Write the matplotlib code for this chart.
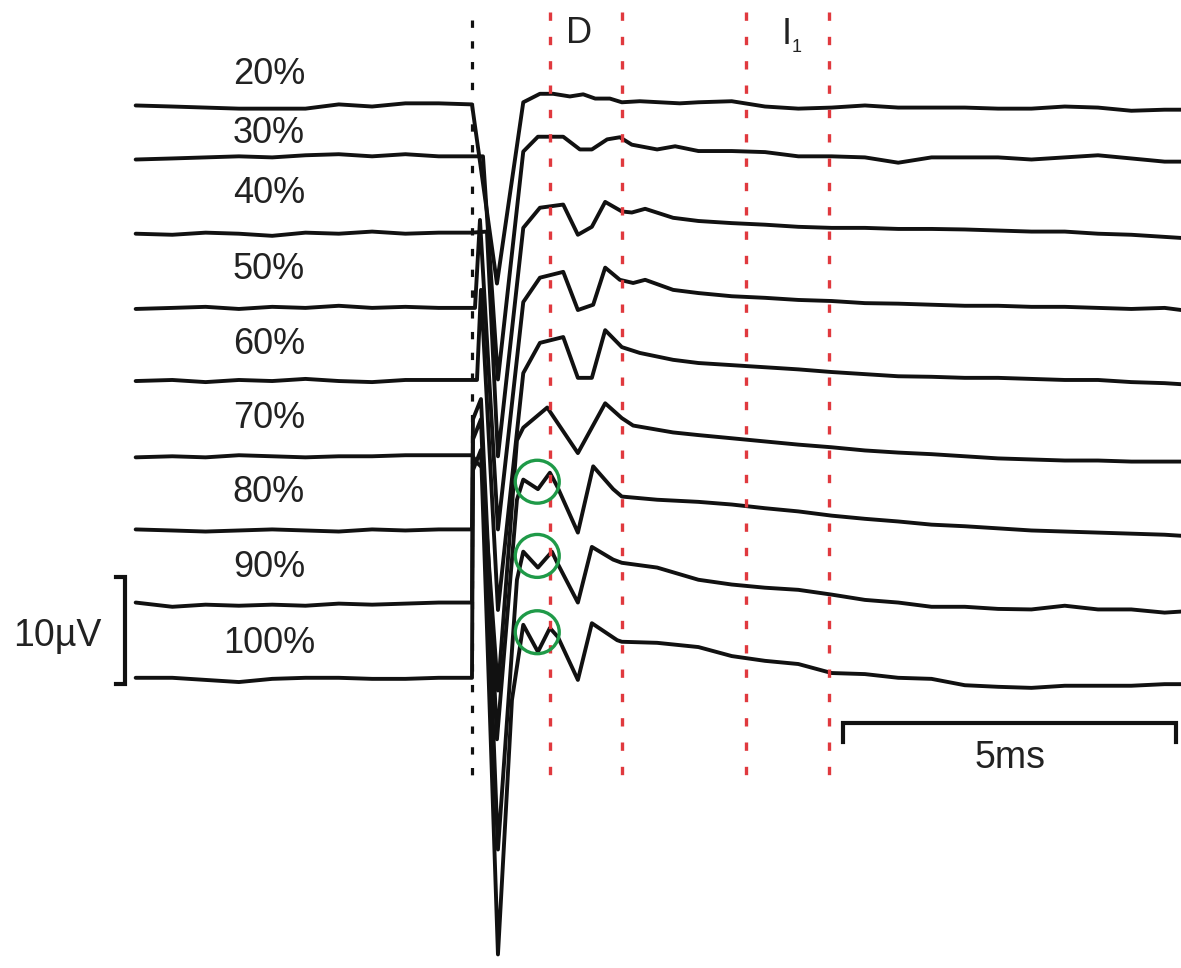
import matplotlib
matplotlib.use('Agg')
import matplotlib.pyplot as plt
from matplotlib.patches import Ellipse

# ======================
# DATA  (time in ms after stimulus, amplitude in uV)
# ======================

labels = ['20%', '30%', '40%', '50%', '60%', '70%', '80%', '90%', '100%']
# vertical offset of each trace baseline (uV above the 100% trace)
offsets = [54.3, 49.2, 42.2, 35.2, 28.3, 21.1, 14.2, 7.2, 0.0]

# pre-stimulus samples
pre_t = [-5.05, -4.5, -4.0, -3.5, -3.0, -2.5, -2.0, -1.5, -1.0, -0.5, 0.0]
pre_v = {
    '20%':  [0.0, -0.1, -0.2, -0.3, -0.3, -0.3, 0.1, -0.1, 0.2, 0.2, 0.1],
    '30%':  [0.0, 0.1, 0.2, 0.3, 0.2, 0.4, 0.5, 0.3, 0.5, 0.3, 0.3],
    '40%':  [0.0, -0.1, 0.1, 0.0, -0.2, 0.1, 0.0, 0.2, 0.0, 0.1, 0.1],
    '50%':  [-0.1, 0.0, 0.1, -0.1, 0.1, 0.0, 0.2, 0.0, 0.1, 0.0, 0.0],
    '60%':  [0.0, 0.1, -0.1, 0.1, 0.0, 0.2, 0.0, -0.1, 0.1, 0.1, 0.1],
    '70%':  [0.0, 0.1, 0.0, 0.2, 0.1, 0.0, 0.1, 0.1, 0.2, 0.2, 0.2],
    '80%':  [0.1, 0.0, -0.1, 0.0, 0.1, 0.0, -0.1, 0.1, 0.0, 0.1, 0.1],
    '90%':  [0.2, -0.2, 0.0, -0.1, 0.0, -0.1, 0.1, 0.0, 0.1, 0.2, 0.2],
    '100%': [0.3, 0.3, 0.1, -0.1, 0.2, 0.3, 0.3, 0.2, 0.2, 0.3, 0.3],
}

# response (artifact, negative deflection, D waves)
resp_t = {
    '20%':  [0.375, 0.77, 1.02, 1.22, 1.47, 1.67, 1.85, 2.07, 2.25, 2.52, 2.82, 3.12],
    '30%':  [0.165, 0.39, 0.77, 0.99, 1.37, 1.62, 1.80, 2.03, 2.22, 2.40, 2.78, 3.05],
    '40%':  [0.225, 0.39, 0.77, 1.02, 1.37, 1.59, 1.80, 2.00, 2.25, 2.40, 2.60, 3.02],
    '50%':  [0.045, 0.12, 0.39, 0.77, 1.02, 1.37, 1.59, 1.82, 2.00, 2.22, 2.42, 2.60, 3.02],
    '60%':  [0.075, 0.135, 0.39, 0.77, 1.02, 1.37, 1.59, 1.80, 2.00, 2.25, 2.52, 3.02],
    '70%':  [0.075, 0.15, 0.39, 0.675, 0.77, 1.13, 1.59, 2.00, 2.25, 2.42, 3.02],
    '80%':  [0.015, 0.135, 0.375, 0.675, 0.77, 0.99, 1.17, 1.28, 1.59, 1.82, 2.12, 2.25, 2.78],
    '90%':  [0.015, 0.135, 0.39, 0.675, 0.77, 0.99, 1.20, 1.28, 1.59, 1.80, 2.12, 2.25, 2.78],
    '100%': [0.015, 0.135, 0.39, 0.60, 0.77, 0.99, 1.17, 1.29, 1.59, 1.80, 2.18, 2.25, 2.78],
}
resp_v = {
    '20%':  [-16.8, 0.3, 1.1, 1.1, 0.85, 1.05, 0.65, 0.65, 0.3, 0.4, 0.3, 0.2],
    '30%':  [0.3, -20.75, 0.75, 2.15, 2.15, 0.95, 0.95, 1.9, 2.1, 1.4, 0.95, 1.25],
    '40%':  [0.2, -21.0, 0.55, 2.45, 2.75, -0.1, 0.65, 3.0, 2.1, 2.0, 2.35, 1.5],
    '50%':  [0.0, 8.3, -20.9, 0.55, 2.85, 3.4, -0.2, 0.3, 3.8, 2.65, 2.35, 2.65, 1.7],
    '60%':  [0.1, 8.6, -21.6, 0.75, 3.6, 4.15, 0.3, 0.3, 4.8, 3.2, 2.65, 2.0],
    '70%':  [-0.5, -0.95, -22.0, 1.6, 2.8, 4.7, 0.4, 5.1, 3.7, 3.0, 2.35],
    '80%':  [10.5, 12.4, -19.7, 2.9, 4.8, 3.9, 5.45, 4.15, -0.2, 6.05, 3.9, 3.2, 2.9],
    '90%':  [15.6, 17.5, -23.1, 2.35, 5.0, 3.5, 5.0, 3.95, 0.2, 5.45, 4.25, 3.95, 3.5],
    '100%': [19.9, 21.8, -25.8, -1.8, 5.3, 2.75, 5.0, 4.15, 0.1, 5.45, 3.85, 3.7, 3.6],
}

# late part of the sweep
tail_t = [3.4, 3.9, 4.4, 4.9, 5.4, 5.9, 6.4, 6.9, 7.4, 7.9, 8.4, 8.9, 9.4, 9.9, 10.4, 10.65]
tail_v = {
    '20%':  [0.3, 0.4, -0.1, -0.3, -0.2, 0.0, -0.2, -0.2, -0.2, -0.3, -0.3, -0.1, -0.2, -0.5, -0.4, -0.4],
    '30%':  [0.8, 0.8, 0.7, 0.3, 0.3, 0.2, -0.3, 0.2, 0.2, 0.2, 0.0, 0.2, 0.4, 0.1, -0.2, -0.2],
    '40%':  [1.2, 1.0, 0.85, 0.65, 0.55, 0.55, 0.45, 0.45, 0.4, 0.3, 0.2, 0.2, 0.0, -0.1, -0.3, -0.4],
    '50%':  [1.4, 1.1, 0.95, 0.75, 0.65, 0.45, 0.4, 0.3, 0.2, 0.2, 0.1, 0.1, 0.0, -0.1, 0.0, -0.2],
    '60%':  [1.7, 1.5, 1.3, 1.1, 0.85, 0.65, 0.45, 0.4, 0.3, 0.3, 0.2, 0.1, 0.1, -0.1, -0.2, -0.3],
    '70%':  [2.1, 1.8, 1.5, 1.2, 0.95, 0.65, 0.45, 0.3, 0.1, -0.1, -0.2, -0.3, -0.3, -0.4, -0.4, -0.4],
    '80%':  [2.7, 2.45, 2.1, 1.8, 1.4, 1.1, 0.85, 0.55, 0.4, 0.2, 0.0, -0.1, -0.2, -0.3, -0.4, -0.5],
    '90%':  [2.35, 1.9, 1.6, 1.4, 0.95, 0.45, 0.2, -0.2, -0.2, -0.4, -0.45, -0.1, -0.45, -0.45, -0.75, -0.65],
    '100%': [3.2, 2.35, 1.9, 1.6, 0.75, 0.65, 0.3, 0.2, -0.4, -0.55, -0.65, -0.45, -0.45, -0.45, -0.3, -0.3],
}

# stimulus and wave windows (ms)
stim_time = 0.0
window_lines = [1.17, 2.25, 4.11, 5.36]
circled = ['80%', '90%', '100%']

# ======================
# PLOT
# ======================

plt.rcParams['font.family'] = ['Liberation Sans', 'DejaVu Sans']
fs = 26
red = '#e0393e'
green = '#1f9a48'
ink = '#111111'
txt = '#222222'
# height of each label above its trace (uV)
label_gap = [2.9, 2.5, 3.8, 3.6, 3.4, 3.7, 3.6, 3.5, 3.5]

fig = plt.figure(figsize=(11.81, 9.68), dpi=100)
ax = fig.add_axes([0, 0, 1, 1])
ax.set_xlim(-7.087, 10.646)
ax.set_ylim(-27.08, 64.25)
ax.axis('off')

for lab, off, gap in zip(labels, offsets, label_gap):
    t = pre_t + resp_t[lab] + tail_t
    v = pre_v[lab] + resp_v[lab] + tail_v[lab]
    ax.plot(t, [a + off for a in v], color=ink, lw=2.8,
            solid_joinstyle='round', solid_capstyle='round', zorder=2)
    ax.text(-3.05, off + gap, lab, fontsize=fs, ha='center', va='center', color=txt)
    if lab in circled:
        ax.add_patch(Ellipse((0.98, off + 4.6), 0.66, 4.05, fill=False,
                             ec=green, lw=2.4, zorder=4))

# stimulus onset and D / I1 windows
ax.plot([stim_time, stim_time], [62.4, -10.0], color=ink, lw=2.3,
        linestyle=(0, (2.3, 4.2)), zorder=3)
for x in window_lines:
    ax.plot([x, x], [63.1, -10.0], color=red, lw=2.4,
            linestyle=(0, (2.5, 4.8)), zorder=3)

ax.text(1.61, 61.1, 'D', fontsize=fs, ha='center', va='center', color=txt)
ax.text(4.73, 61.0, 'I', fontsize=fs, ha='center', va='center', color=txt)
ax.text(4.87, 59.8, '1', fontsize=13, ha='center', va='center', color=txt)

# 5 ms scale bar
ax.plot([5.57, 5.57, 10.57, 10.57], [-5.75, -3.96, -3.96, -5.75], color=ink, lw=3.0,
        solid_joinstyle='miter', zorder=2)
ax.text(8.08, -7.26, '5ms', fontsize=27, ha='center', va='center', color=txt)

# 10 uV scale bar
ax.plot([-5.34, -5.21, -5.21, -5.34], [9.8, 9.8, -0.3, -0.3], color=ink, lw=3.0,
        solid_joinstyle='miter', zorder=2)
ax.text(-6.23, 4.25, '10µV', fontsize=27, ha='center', va='center', color=txt)

plt.savefig('out.png', dpi=100)
